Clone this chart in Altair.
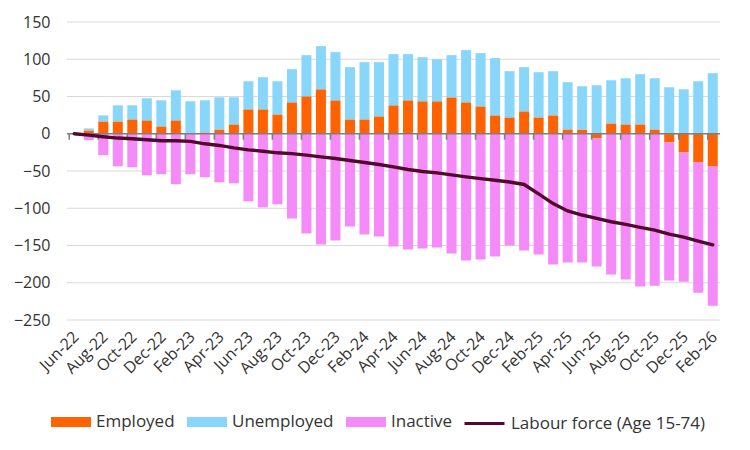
import altair as alt
import pandas as pd

months = ["Jun-22","Jul-22","Aug-22","Sep-22","Oct-22","Nov-22","Dec-22",
          "Jan-23","Feb-23","Mar-23","Apr-23","May-23","Jun-23","Jul-23","Aug-23","Sep-23","Oct-23","Nov-23","Dec-23",
          "Jan-24","Feb-24","Mar-24","Apr-24","May-24","Jun-24","Jul-24","Aug-24","Sep-24","Oct-24","Nov-24","Dec-24",
          "Jan-25","Feb-25","Mar-25","Apr-25","May-25","Jun-25","Jul-25","Aug-25","Sep-25","Oct-25","Nov-25","Dec-25",
          "Jan-26","Feb-26"]

employed = [0, 4.5, 16.6, 16.6, 19.3, 18.0, 9.9, 18.0, 0, 1.8, 5.8, 12.6, 32.8, 32.8, 26.0, 42.2,
            50.3, 59.7, 44.9, 19.3, 19.3, 23.4, 38.2, 44.9, 43.6, 43.6, 48.9, 42.2, 36.8, 24.7, 22.0,
            30.1, 22.0, 24.7, 5.8, 5.8, -6.3, 13.9, 12.6, 12.6, 5.8, -11.7, -25.1, -38.6, -44.0]

unemployed = [0, 2.7, 8.1, 21.6, 18.9, 29.6, 35.0, 40.4, 43.6, 43.1, 43.1, 36.3, 37.7, 43.1, 44.5, 44.5,
              55.2, 57.9, 64.7, 70.1, 76.8, 72.7, 68.7, 62.0, 59.2, 56.5, 56.6, 70.1, 71.4, 76.8, 62.0,
              59.3, 60.6, 59.3, 63.4, 58.0, 65.1, 57.9, 61.9, 67.3, 68.7, 62.4, 59.7, 70.5, 81.3]

inactive = [0, -8.5, -28.7, -43.6, -44.9, -55.7, -54.3, -67.8, -54.3, -58.4, -65.1, -66.5, -90.7, -98.8, -94.7, -113.6,
            -133.8, -148.6, -143.2, -124.4, -135.2, -137.9, -151.3, -155.4, -154.0, -152.7, -160.8, -170.2, -168.8, -164.8, -150.0,
            -156.7, -162.1, -175.6, -172.9, -172.9, -172.0, -189.0, -195.8, -205.2, -203.9, -185.4, -173.4, -174.7, -186.8]

labour_force = [0, -1.8, -4.0, -5.8, -6.7, -8.0, -9.4, -9.4, -10.3, -13.5, -15.7, -18.9, -21.6, -23.4, -25.6, -26.7,
                -28.7, -31.0, -33.2, -35.9, -38.6, -41.3, -44.5, -48.0, -50.7, -52.5, -55.2, -57.9, -60.2, -62.4, -64.8,
                -68.1, -80.8, -93.8, -103.7, -109.1, -113.6, -118.1, -121.7, -125.7, -129.3, -134.7, -138.8, -144.1, -149.1]

bar_names = ["Employed", "Unemployed", "Inactive"]
bar_colors = ["#FF6200", "#89D6FB", "#F58AF9"]
line_name = "Labour force (Age 15-74)"
line_color = "#55082E"
y_ticks = [150, 100, 50, 0, -50, -100, -150, -200, -250]

tick_months = months[::2]

rows = []
for i, m in enumerate(months):
    rows.append({"month": m, "series": "Employed", "value": employed[i], "ord": 1})
    rows.append({"month": m, "series": "Unemployed", "value": unemployed[i], "ord": 2})
    rows.append({"month": m, "series": "Inactive", "value": inactive[i], "ord": 3})
bars_df = pd.DataFrame(rows)
line_df = pd.DataFrame({"month": months, "value": labour_force, "series": line_name})
ticks_df = pd.DataFrame({"month": tick_months})
grid_df = pd.DataFrame({"y": y_ticks})

FONT = "Open Sans"
TXT = "#333333"

xscale = alt.Scale(domain=months, paddingInner=0.31, paddingOuter=0.155)
yscale = alt.Scale(domain=[-250, 150], nice=False)

grid = alt.Chart(grid_df).mark_rule(color="#d9d9d9", strokeWidth=1.2).encode(
    y=alt.Y("y:Q", scale=yscale, title=None,
            axis=alt.Axis(values=y_ticks, labelFont=FONT, labelFontSize=16, labelOverlap=False,
                          labelColor=TXT, labelPadding=17, domain=False, ticks=False,
                          grid=False, tickCount=9)),
)

bars = alt.Chart(bars_df).mark_bar().encode(
    x=alt.X("month:N", scale=xscale, sort=months, title=None,
            axis=alt.Axis(values=tick_months, labelAngle=-45, labelAlign="right",
                          labelBaseline="middle", labelPadding=14, labelOffset=2,
                          labelOverlap=False,
                          labelFont=FONT, labelFontSize=16, labelColor=TXT,
                          domain=False, ticks=False, grid=False)),
    y=alt.Y("value:Q", scale=yscale, stack="zero", title=None),
    color=alt.Color("series:N", scale=alt.Scale(domain=bar_names, range=bar_colors),
                    legend=alt.Legend(
                        title=None, orient="none", direction="horizontal",
                        legendX=-16, legendY=380,
                        symbolType="M-1,-0.25H1V0.25H-1Z", symbolSize=1600,
                        symbolStrokeWidth=0, symbolOpacity=1,
                        labelFont=FONT, labelFontSize=17, labelColor=TXT,
                        labelOffset=5, columnPadding=12, labelLimit=300)),
    order=alt.Order("ord:Q"),
)

zero = alt.Chart(pd.DataFrame({"y": [0]})).mark_rule(color="#7f7f7f", strokeWidth=1.6).encode(
    y=alt.Y("y:Q", scale=yscale)
)

ticks = alt.Chart(ticks_df).mark_rule(color="#7f7f7f", strokeWidth=1.6).encode(
    x=alt.X("month:N", scale=xscale, sort=months, bandPosition=0),
    y=alt.datum(0),
    y2=alt.datum(-8),
)

line = alt.Chart(line_df).mark_line(strokeWidth=3.4, strokeCap="round").encode(
    x=alt.X("month:N", scale=xscale, sort=months),
    y=alt.Y("value:Q", scale=yscale),
    stroke=alt.Stroke("series:N", scale=alt.Scale(domain=[line_name], range=[line_color]),
                      legend=alt.Legend(
                          title=None, orient="none", direction="horizontal",
                          legendX=396, legendY=380,
                          symbolType="M-1,0H1", symbolSize=1600, symbolStrokeWidth=3,
                          labelFont=FONT, labelFontSize=17, labelColor=TXT,
                          labelOffset=5, labelLimit=300)),
)

chart = alt.layer(grid, bars, zero, ticks, line).resolve_scale(
    color="independent", stroke="independent"
).properties(
    width=653, height=298,
    autosize=alt.AutoSizeParams(type="none"),
    padding={"left": 59, "top": 14, "right": 20, "bottom": 118},
).configure_view(stroke=None)

chart.save("out.html", embed_options={"renderer": "svg", "actions": False})
